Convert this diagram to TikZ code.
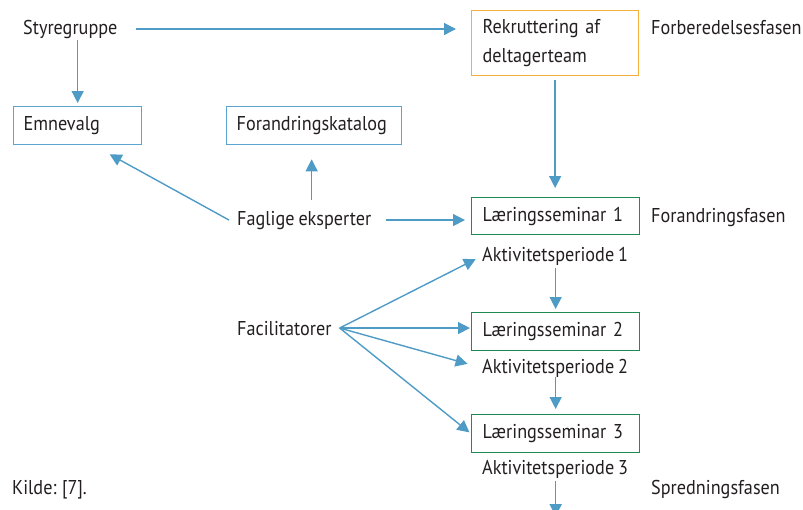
\documentclass[tikz,border=0pt]{standalone}
\usepackage{fontspec}
\setmainfont{PT Sans}[FakeStretch=0.91, WordSpace=0.8]
\usetikzlibrary{arrows.meta}
\definecolor{arrblue}{HTML}{4E9BC6}
\definecolor{boxblue}{HTML}{5AA5D0}
\definecolor{boxorange}{HTML}{F5AF3C}
\definecolor{boxgreen}{HTML}{1E8B55}
\definecolor{txtcol}{HTML}{231F20}
\begin{document}
\begin{tikzpicture}[x=1pt,y=-1pt,
  font=\fontsize{20}{29}\selectfont,
  txt/.style={anchor=base west, inner sep=0pt, text=txtcol},
  box/.style={line width=1.3pt, anchor=north west, inner xsep=10pt, inner ysep=0pt, align=left, minimum height=38pt, text=txtcol},
  arr/.style={draw=arrblue, line width=1.4pt, -{Triangle[length=12pt,width=12pt]}}]
\useasboundingbox (0,0) rectangle (803,509);
\node[txt] (sty) at (23,34) {Styregruppe};
\node[box, draw=boxblue, text width=108pt] (emn) at (13,106) {Emnevalg};
\node[box, draw=boxblue, text width=155pt] (fkat) at (226,106) {Forandringskatalog};
\node[box, draw=boxorange, text width=145pt, inner xsep=11pt, minimum height=65pt] (rek) at (471,10) {Rekruttering af\\deltagerteam};
\node[txt] (forb) at (651,34) {Forberedelsesfasen};
\node[txt] (fag) at (237,225) {Faglige eksperter};
\node[box, draw=boxgreen, text width=146pt, inner xsep=11pt, minimum height=37pt] (ls1) at (471,197) {Læringsseminar 1};
\node[txt] (foran) at (651,222) {Forandringsfasen};
\node[txt] (ap1) at (482,261) {Aktivitetsperiode 1};
\node[txt] (fac) at (237,335) {Facilitatorer};
\node[box, draw=boxgreen, text width=146pt, inner xsep=11pt] (ls2) at (471,312) {Læringsseminar 2};
\node[txt] (ap2) at (482,373) {Aktivitetsperiode 2};
\node[box, draw=boxgreen, text width=146pt, inner xsep=11pt] (ls3) at (471,414) {Læringsseminar 3};
\node[txt] (ap3) at (482,474) {Aktivitetsperiode 3};
\node[txt] (spr) at (651,494) {Spredningsfasen};
\node[txt] (kil) at (12,494) {Kilde: [7].};
% helper coordinates
\path (fkat.south) ++(-2.5,0) coordinate (fk1);
\path (fac.east) ++(8,0) coordinate (fo);
\path (ls3.south |- ap3.south) ++(0,38) coordinate (out);
% connectors
\draw[arr, shorten <=18pt, shorten >=15pt] (sty.east) -- (sty.east -| rek.west);
\draw[arr, shorten <=1.5pt, shorten >=3pt] (emn.north |- sty.south) -- (emn.north);
\draw[arr, shorten <=4pt, shorten >=9pt] (rek.south) -- (rek.south |- ls1.north);
\draw[arr] ([xshift=-8pt]fag.west) -- ([xshift=32pt,yshift=-9pt]emn.south);
\draw[arr, shorten <=11pt, shorten >=14pt] (fk1 |- fag.north) -- (fk1);
\draw[arr, shorten <=14pt, shorten >=6pt] (fag.east) -- (fag.east -| ls1.west);
\draw[arr, shorten >=7pt] (fo) -- (ap1.west);
\draw[arr, shorten >=1pt] (fo) -- (fo -| ls2.west);
\draw[arr, shorten >=15pt] (fo) -- (ap2.west);
\draw[arr, shorten >=2pt] (fo) -- (ls3.west);
\draw[arr, shorten <=2.5pt, shorten >=3pt] (ls2.north |- ap1.south) -- (ls2.north);
\draw[arr, shorten >=5pt] (ls3.north |- ap2.south) -- (ls3.north);
\draw[arr, shorten <=2.5pt] (ls3.south |- ap3.south) -- (out);
\end{tikzpicture}
\end{document}
